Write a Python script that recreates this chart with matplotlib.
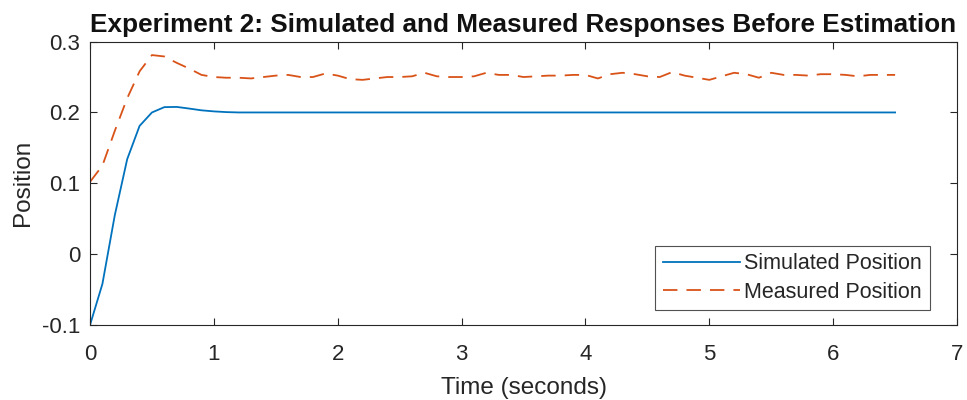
import matplotlib
matplotlib.use("Agg")
import matplotlib.pyplot as plt
import numpy as np

plt.rcParams['font.family'] = ['Liberation Sans', 'DejaVu Sans']

t_sim = [0.0, 0.1, 0.2, 0.3, 0.4, 0.5, 0.6, 0.7, 0.8, 0.9, 1.0, 1.1, 1.2, 1.5, 2.0, 3.0, 4.0, 5.0, 6.0, 6.5]
sim_pos = [-0.100, -0.042, 0.055, 0.134, 0.181, 0.200, 0.2075, 0.2078, 0.2055, 0.203, 0.2015, 0.2005, 0.200,
           0.200, 0.200, 0.200, 0.200, 0.200, 0.200, 0.200]

t_meas = [round(0.1 * i, 1) for i in range(66)]
meas_pos = [0.102, 0.125, 0.174, 0.220, 0.258, 0.281, 0.279, 0.270, 0.262, 0.253,
            0.250, 0.249, 0.249, 0.248, 0.250, 0.252, 0.253, 0.250, 0.250, 0.255,
            0.252, 0.247, 0.246, 0.248, 0.250, 0.250, 0.251, 0.256, 0.251, 0.250,
            0.250, 0.251, 0.256, 0.253, 0.253, 0.250, 0.251, 0.252, 0.252, 0.253,
            0.253, 0.248, 0.254, 0.256, 0.254, 0.251, 0.250, 0.257, 0.252, 0.249,
            0.246, 0.251, 0.256, 0.254, 0.249, 0.256, 0.253, 0.253, 0.252, 0.254,
            0.254, 0.253, 0.251, 0.253, 0.253, 0.253]

xticks = [0, 1, 2, 3, 4, 5, 6, 7]
yticks = [-0.1, 0, 0.1, 0.2, 0.3]
ytick_labels = ['-0.1', '0', '0.1', '0.2', '0.3']

fig = plt.figure(figsize=(9.67, 4.0), dpi=100)
ax = fig.add_axes([0.0931, 0.1875, 0.8966, 0.7085])

ax.plot(t_sim, sim_pos, color='#0072BD', lw=1.3, label='Simulated Position')
ax.plot(t_meas, meas_pos, color='#D95319', lw=1.3, ls=(0, (8, 5)), label='Measured Position')

ax.set_xlim(0, 7)
ax.set_ylim(-0.1, 0.3)
ax.set_xticks(xticks)
ax.set_yticks(yticks)
ax.set_yticklabels(ytick_labels)
ax.tick_params(direction='in', top=True, right=True, length=5, width=0.8,
               labelsize=16, colors='#262626')
ax.tick_params(axis='x', pad=14)
ax.tick_params(axis='y', pad=7)
for s in ax.spines.values():
    s.set_color('#262626')
    s.set_linewidth(0.8)

ax.set_xlabel('Time (seconds)', fontsize=17.5, color='#262626', labelpad=8)
ax.set_ylabel('Position', fontsize=17.5, color='#262626', labelpad=6)
ax.set_title('Experiment 2: Simulated and Measured Responses Before Estimation',
             fontsize=18.8, fontweight='bold', color='#111111', pad=7)

leg = ax.legend(loc='lower right', fontsize=15.5, frameon=True, fancybox=False,
                edgecolor='#262626', handlelength=3.6, handletextpad=0.2,
                borderpad=0.35, labelspacing=0.35, borderaxespad=0,
                bbox_to_anchor=(0.9685, 0.052))
leg.get_frame().set_linewidth(0.8)
for txt in leg.get_texts():
    txt.set_color('#262626')

fig.savefig('out.png', dpi=100, facecolor='white')
